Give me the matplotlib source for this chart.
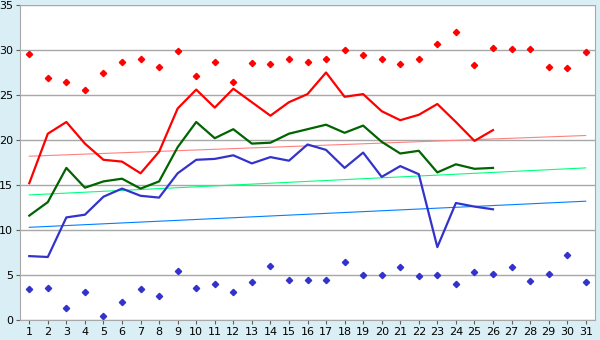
import numpy as np
import matplotlib
matplotlib.use("Agg")
import matplotlib.pyplot as plt

# day of month
days = np.arange(1, 32)
days_measured = np.arange(1, 27)

# measured daily max / mean / min (days 1-26)
t_max = [15.2, 20.7, 22.0, 19.6, 17.8, 17.6, 16.3, 18.7, 23.5, 25.6,
         23.6, 25.7, 24.2, 22.7, 24.2, 25.1, 27.5, 24.8, 25.1, 23.2,
         22.2, 22.8, 24.0, 22.0, 19.9, 21.1]
t_mean = [11.6, 13.1, 16.9, 14.7, 15.4, 15.7, 14.6, 15.4, 19.2, 22.0,
          20.2, 21.2, 19.6, 19.7, 20.7, 21.2, 21.7, 20.8, 21.6, 19.8,
          18.5, 18.8, 16.4, 17.3, 16.8, 16.9]
t_min = [7.1, 7.0, 11.4, 11.7, 13.7, 14.6, 13.8, 13.6, 16.3, 17.8,
         17.9, 18.3, 17.4, 18.1, 17.7, 19.5, 18.9, 16.9, 18.6, 15.9,
         17.1, 16.2, 8.1, 13.0, 12.6, 12.3]

# record high / record low for each day
rec_high = [29.6, 26.9, 26.5, 25.6, 27.4, 28.7, 29.0, 28.1, 29.9, 27.1,
            28.7, 26.4, 28.6, 28.4, 29.0, 28.7, 29.0, 30.0, 29.5, 29.0,
            28.5, 29.0, 30.7, 32.0, 28.3, 30.2, 30.1, 30.1, 28.1, 28.0, 29.8]
rec_low = [3.5, 3.6, 1.3, 3.1, 0.5, 2.0, 3.5, 2.7, 5.4, 3.6,
           4.0, 3.1, 4.2, 6.0, 4.5, 4.4, 4.5, 6.5, 5.0, 5.0,
           5.9, 4.9, 5.0, 4.0, 5.3, 5.1, 5.9, 4.3, 5.1, 7.2, 4.2]

# long-term normals, first and last day of month
normal_days = [1, 31]
normal_max = [18.2, 20.5]
normal_mean = [13.9, 16.9]
normal_min = [10.3, 13.2]

bg = "#d9eff5"
fig = plt.figure(figsize=(6, 3.4), dpi=100, facecolor=bg)
ax = fig.add_axes([20/600, 20/340, 575/600, 315/340])
ax.set_facecolor("white")

ax.plot(normal_days, normal_max, color="#ff8080", lw=0.8)
ax.plot(normal_days, normal_mean, color="#00ff80", lw=0.8)
ax.plot(normal_days, normal_min, color="#0080ff", lw=0.8)

ax.plot(days_measured, t_max, color="#ff0000", lw=1.6)
ax.plot(days_measured, t_mean, color="#006400", lw=1.6)
ax.plot(days_measured, t_min, color="#3333cc", lw=1.6)

ax.plot(days, rec_high, ls="none", marker="D", ms=3.2, color="#ff0000")
ax.plot(days, rec_low, ls="none", marker="D", ms=3.2, color="#3333cc")

ax.set_xlim(0.5, 31.5)
ax.set_ylim(0, 35)
ax.set_xticks(days)
ax.set_yticks(np.arange(0, 36, 5))
ax.yaxis.grid(True, color="#a8a8a8", lw=1)
ax.set_axisbelow(True)
for s in ax.spines.values():
    s.set_color("#a8a8a8")
ax.spines["top"].set_visible(False)
ax.tick_params(axis="both", direction="out", length=3, color="#606060",
               labelsize=8, pad=2)
ax.tick_params(axis="y", length=3)

fig.savefig("out.png", dpi=100, facecolor=bg)
